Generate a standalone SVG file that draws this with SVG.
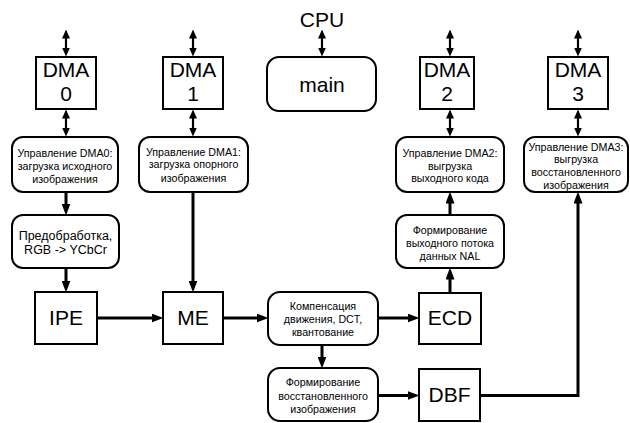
<svg xmlns="http://www.w3.org/2000/svg" width="630" height="423" viewBox="0 0 630 423">
<style>
.box{fill:#fff;stroke:#000;stroke-width:2}
.t{font-family:"Liberation Sans",Arial,sans-serif;fill:#000;text-anchor:middle}
.big{font-size:21px}
.mid{font-size:12.5px}
.sm{font-size:10.7px}
.c{fill:none;stroke:#000;stroke-width:3}
.d{fill:none;stroke:#000;stroke-width:2.2}
</style>
<defs>
<marker id="ah" markerUnits="userSpaceOnUse" viewBox="0 0 12 9" markerWidth="12" markerHeight="9" refX="0.5" refY="4.5" orient="auto">
<path d="M0,0 L12,4.5 L0,9 z" fill="#000"/>
</marker>
<marker id="dh" markerUnits="userSpaceOnUse" viewBox="0 0 9 8" markerWidth="9" markerHeight="8" refX="0.5" refY="4" orient="auto-start-reverse">
<path d="M0,0 L9,4 L0,8 z" fill="#000"/>
</marker>
</defs>
<g id="connectors">
<line class="d" x1="66" y1="38" x2="66" y2="48" marker-start="url(#dh)" marker-end="url(#dh)"/>
<line class="d" x1="66" y1="118" x2="66" y2="128" marker-start="url(#dh)" marker-end="url(#dh)"/>
<line class="d" x1="193" y1="38" x2="193" y2="48" marker-start="url(#dh)" marker-end="url(#dh)"/>
<line class="d" x1="193" y1="118" x2="193" y2="128" marker-start="url(#dh)" marker-end="url(#dh)"/>
<line class="d" x1="322" y1="38" x2="322" y2="48" marker-start="url(#dh)" marker-end="url(#dh)"/>
<line class="d" x1="450" y1="38" x2="450" y2="48" marker-start="url(#dh)" marker-end="url(#dh)"/>
<line class="d" x1="450" y1="118" x2="450" y2="128" marker-start="url(#dh)" marker-end="url(#dh)"/>
<line class="d" x1="578" y1="38" x2="578" y2="48" marker-start="url(#dh)" marker-end="url(#dh)"/>
<line class="d" x1="578" y1="118" x2="578" y2="128" marker-start="url(#dh)" marker-end="url(#dh)"/>
<line class="c" x1="66" y1="192" x2="66" y2="204" marker-end="url(#ah)"/>
<line class="c" x1="66" y1="268" x2="66" y2="281" marker-end="url(#ah)"/>
<line class="c" x1="193" y1="192" x2="193" y2="281" marker-end="url(#ah)"/>
<line class="c" x1="97" y1="318" x2="152" y2="318" marker-end="url(#ah)"/>
<line class="c" x1="223" y1="318" x2="257" y2="318" marker-end="url(#ah)"/>
<line class="c" x1="378" y1="318" x2="408" y2="318" marker-end="url(#ah)"/>
<line class="c" x1="450" y1="293" x2="450" y2="279" marker-end="url(#ah)"/>
<line class="c" x1="450" y1="215" x2="450" y2="203" marker-end="url(#ah)"/>
<line class="c" x1="322" y1="345" x2="322" y2="357" marker-end="url(#ah)"/>
<line class="c" x1="378" y1="395.5" x2="408" y2="395.5" marker-end="url(#ah)"/>
<polyline class="c" points="480,395.5 578,395.5 578,203" marker-end="url(#ah)"/>
</g>
<g id="cpu"><text class="t big" x="322" y="27">CPU</text></g>
<g id="dma0"><rect class="box" x="36" y="57" width="60" height="52"/><text class="t big" x="66" y="77">DMA</text><text class="t big" x="66" y="101">0</text></g>
<g id="dma1"><rect class="box" x="163" y="57" width="60" height="52"/><text class="t big" x="193" y="77">DMA</text><text class="t big" x="193" y="101">1</text></g>
<g id="main"><rect class="box" x="267" y="57" width="109" height="54" rx="12"/><text class="t big" x="322" y="92">main</text></g>
<g id="dma2"><rect class="box" x="420" y="57" width="54" height="52"/><text class="t big" x="447" y="77">DMA</text><text class="t big" x="447" y="101">2</text></g>
<g id="dma3"><rect class="box" x="548" y="57" width="60" height="52"/><text class="t big" x="578" y="77">DMA</text><text class="t big" x="578" y="101">3</text></g>
<g id="ctl0"><rect class="box" x="12" y="137" width="106" height="55" rx="11"/><text class="t sm" x="65" y="157">Управление DMA0:</text><text class="t sm" x="65" y="170">загрузка исходного</text><text class="t sm" x="65" y="183">изображения</text></g>
<g id="ctl1"><rect class="box" x="139" y="137" width="109" height="55" rx="11"/><text class="t sm" x="193.5" y="155.5">Управление DMA1:</text><text class="t sm" x="193.5" y="168">загрузка опорного</text><text class="t sm" x="193.5" y="181.5">изображения</text></g>
<g id="ctl2"><rect class="box" x="396" y="137" width="108" height="55" rx="11"/><text class="t sm" x="450" y="157">Управление DMA2:</text><text class="t sm" x="450" y="170">выгрузка</text><text class="t sm" x="450" y="182">выходного кода</text></g>
<g id="ctl3"><rect class="box" x="524" y="137" width="104" height="55" rx="11"/><text class="t sm" x="576" y="150.5">Управление DMA3:</text><text class="t sm" x="576" y="163.2">выгрузка</text><text class="t sm" x="576" y="176.2">восстановленного</text><text class="t sm" x="576" y="188.8">изображения</text></g>
<g id="pre"><rect class="box" x="12" y="215" width="107" height="53" rx="11"/><text class="t mid" x="65.5" y="239.5">Предобработка,</text><text class="t mid" x="65.5" y="254">RGB -&gt; YCbCr</text></g>
<g id="nal"><rect class="box" x="396" y="215" width="108" height="53" rx="11"/><text class="t sm" x="450" y="234">Формирование</text><text class="t sm" x="450" y="247">выходного потока</text><text class="t sm" x="450" y="260">данных NAL</text></g>
<g id="ipe"><rect class="box" x="35" y="292" width="62" height="52"/><text class="t big" x="66" y="325">IPE</text></g>
<g id="me"><rect class="box" x="163" y="292" width="60" height="52"/><text class="t big" x="193" y="325">ME</text></g>
<g id="comp"><rect class="box" x="268" y="292" width="110" height="53" rx="12"/><text class="t sm" x="323" y="310">Компенсация</text><text class="t sm" x="323" y="323">движения, DCT,</text><text class="t sm" x="323" y="336">квантование</text></g>
<g id="ecd"><rect class="box" x="419" y="293" width="62" height="51"/><text class="t big" x="450" y="325">ECD</text></g>
<g id="rest"><rect class="box" x="268" y="368" width="110" height="53" rx="12"/><text class="t sm" x="323" y="386">Формирование</text><text class="t sm" x="323" y="399.5">восстановленного</text><text class="t sm" x="323" y="412.5">изображения</text></g>
<g id="dbf"><rect class="box" x="419" y="369" width="61" height="52"/><text class="t big" x="449.5" y="402">DBF</text></g>
</svg>
